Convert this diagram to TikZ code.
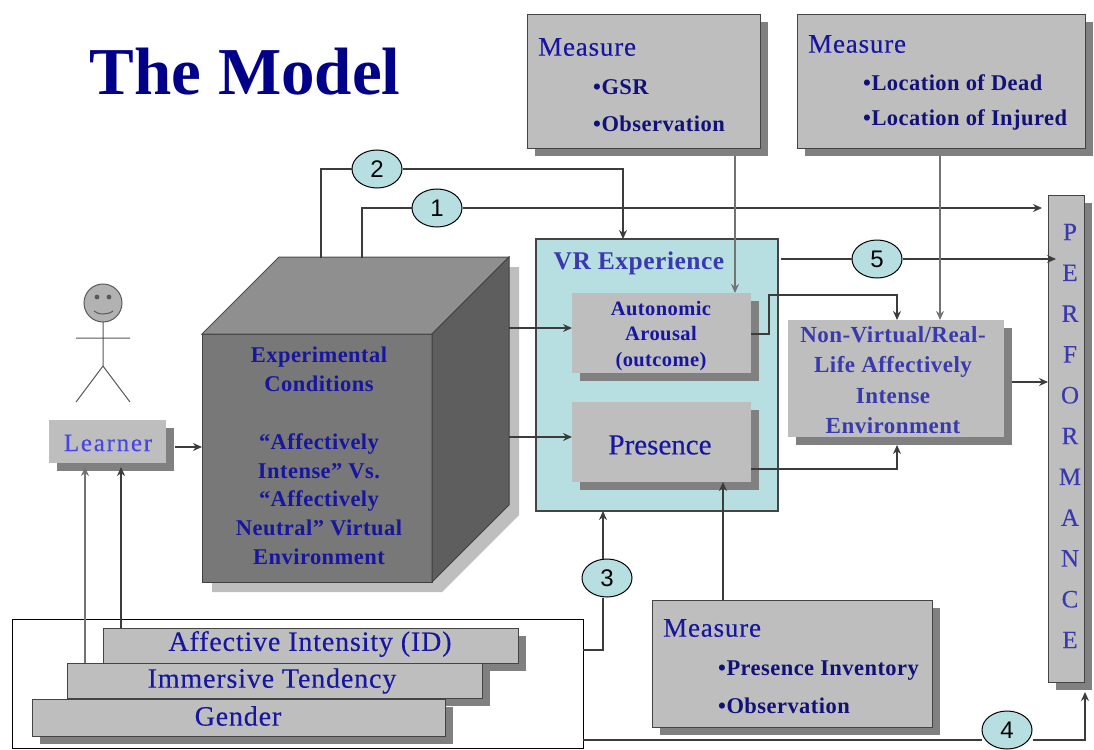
\documentclass[tikz,border=0pt]{standalone}
\usepackage{fontspec}
\setmainfont{Liberation Serif}
\newfontfamily\circfont{Liberation Sans}
\newfontfamily\boldwide[LetterSpace=2]{Liberation Serif}
\newfontfamily\thickwide[LetterSpace=3,FakeBold=0.25]{Liberation Serif}
\newfontfamily\thickwider[LetterSpace=7,FakeBold=0.2]{Liberation Serif}
\newfontfamily\thickplain[FakeBold=0.25]{Liberation Serif}
\usetikzlibrary{arrows.meta,shadows,calc,shapes.geometric}
\definecolor{boxgrey}{HTML}{BEBEBE}
\definecolor{shadegrey}{HTML}{808080}
\definecolor{teal}{HTML}{B7DFE2}
\definecolor{darkblue}{HTML}{1616A0}
\definecolor{midblue}{HTML}{3A3AAE}
\definecolor{lightblue}{HTML}{4646E6}
\definecolor{titleblue}{HTML}{000088}
\definecolor{linegrey}{HTML}{3C3C3C}
\definecolor{edgegrey}{HTML}{444444}
\tikzset{
  x=1pt,y=-1pt,
  boxbase/.style={anchor=north west,inner sep=0pt,outer sep=0pt,fill=boxgrey,drop shadow={shadow xshift=8pt,shadow yshift=-8pt,fill=shadegrey,opacity=1}},
  plainbox/.style={boxbase},
  framebox/.style={boxbase,draw=edgegrey,line width=0.9pt},
  txt/.style={inner sep=0pt,align=center,text=darkblue,font=\boldwide\bfseries\fontsize{22.5}{24}\selectfont},
  msr/.style={inner sep=0pt,anchor=west,text=darkblue,font=\thickwide\fontsize{27}{30}\selectfont},
  bul/.style={inner sep=0pt,anchor=west,text=black!25!darkblue,font=\boldwide\bfseries\fontsize{22.5}{24}\selectfont},
  stacktxt/.style={inner sep=0pt,text=darkblue,font=\thickwide\fontsize{28}{30}\selectfont},
  bubble/.style={ellipse,draw=black,line width=1pt,fill=teal,inner sep=0pt,minimum width=50pt,minimum height=38pt,text=black,font=\circfont\fontsize{24}{24}\selectfont},
  conn/.style={draw=linegrey,line width=1.4pt},
  arr/.style={conn,-{Stealth[length=9pt,width=8pt]}},
}
\begin{document}
\begin{tikzpicture}
\useasboundingbox (0,0) rectangle (1094,749);
\fill[white] (0,0) rectangle (1094,749);

\node[inner sep=0pt,text=titleblue,font=\bfseries\fontsize{67}{67}\selectfont] (title) at (245,72) {The Model};

% measures
\node[framebox,minimum width=233pt,minimum height=134pt] (mgsr) at (527,14) {};
\node[msr] (mgsrt) at (538,47) {Measure};
\node[bul] (mgsra) at (593,87) {•GSR};
\node[bul] (mgsrb) at (593,124) {•Observation};

\node[framebox,minimum width=288pt,minimum height=134pt] (mloc) at (797,14) {};
\node[msr] (mloct) at (808,44) {Measure};
\node[bul] (mloca) at (863,83) {•Location of Dead};
\node[bul] (mlocb) at (863,120) {•Location of Injured};

\node[framebox,minimum width=280pt,minimum height=127pt] (mpres) at (652,600) {};
\node[msr] (mprest) at (663,628) {Measure};
\node[bul] (mpresa) at (718,671) {•Presence Inventory};
\node[bul] (mpresb) at (718,706) {•Observation};

% performance
\node[framebox,minimum width=36pt,minimum height=487pt] (perf) at (1048,195) {};
\node[inner sep=0pt,align=center,text=midblue,font=\thickplain\fontsize{25}{40.8}\selectfont] (perft) at (1070,436) {P\\E\\R\\F\\O\\R\\M\\A\\N\\C\\E};

% cube
\fill[boxgrey] (212,344) -- (289,267) -- (519,267) -- (519,515) -- (442,592) -- (212,592) -- cycle;
\node[anchor=north west,inner sep=0pt,outer sep=0pt,fill=black!53,draw=black!75,line width=1pt,minimum width=230pt,minimum height=248pt] (cube) at (202,334) {};
\draw[fill=black!44,draw=black!70,line width=1pt] (cube.north west) -- (279,257) -- (509,257) -- (cube.north east) -- cycle;
\draw[fill=black!63,draw=black!75,line width=1pt] (cube.north east) -- (509,257) -- (509,505) -- (cube.south east) -- cycle;
\node[txt,font=\boldwide\bfseries\fontsize{22.5}{28.8}\selectfont] (cubet) at (319,456) {Experimental\\Conditions\\[28.8pt]“Affectively\\Intense” Vs.\\“Affectively\\Neutral” Virtual\\Environment};

% learner
\node[plainbox,minimum width=117pt,minimum height=43pt] (learner) at (49,420) {};
\node[inner sep=0pt,text=lightblue,font=\thickwider\fontsize{25}{26}\selectfont] (learnert) at (108,443) {Learner};
\draw[fill=black!30,draw=black!65,line width=1pt] (103,303) circle (19);
\fill[black!65] (97,297) circle (2.4) (109,297) circle (2.4);
\draw[black!65,line width=1pt] (94,311) .. controls (98,315) and (108,315) .. (113,311);
\draw[black!65,line width=1pt] (103,322) -- (103,366) (76,338) -- (130,338) (76,402) -- (103,366) -- (130,402);

% VR
\node[anchor=north west,inner sep=0pt,outer sep=0pt,fill=teal,draw=edgegrey,line width=1.1pt,minimum width=242pt,minimum height=272pt] (vr) at (536,239) {};
\node[txt,text=midblue,font=\boldwide\bfseries\fontsize{25.5}{26}\selectfont] (vrt) at (639,263) {VR Experience};
\node[plainbox,minimum width=179pt,minimum height=80pt] (aut) at (572,293) {};
\node[txt,font=\boldwide\bfseries\fontsize{20.5}{25.5}\selectfont] (autt) at (661,336) {Autonomic\\Arousal\\(outcome)};
\node[plainbox,minimum width=179pt,minimum height=80pt] (pres) at (572,402) {};
\node[inner sep=0pt,text=darkblue,font=\thickplain\fontsize{29}{30}\selectfont] (prest) at (660,445) {Presence};
\node[plainbox,minimum width=216pt,minimum height=117pt] (real) at (788,320) {};
\node[txt,text=midblue,font=\boldwide\bfseries\fontsize{23}{30.5}\selectfont] (realt) at (893,380) {Non-Virtual/Real-\\Life Affectively\\Intense\\Environment};

% stack
\node[anchor=north west,inner sep=0pt,outer sep=0pt,draw=black,line width=1pt,minimum width=571pt,minimum height=129pt] (group) at (12,619) {};
\node[framebox,minimum width=415pt,minimum height=35pt] (affec) at (103,628) {};
\node[stacktxt] (affect) at (310,644) {Affective Intensity (ID)};
\node[framebox,minimum width=415pt,minimum height=35pt] (immer) at (67,663) {};
\node[stacktxt] (immert) at (272,681) {Immersive Tendency};
\node[framebox,minimum width=413pt,minimum height=37pt] (gender) at (32,699) {};
\node[stacktxt] (gendert) at (238,716) {Gender};

% bubbles
\node[bubble] (two) at (377,169) {2};
\node[bubble] (one) at (437,208) {1};
\node[bubble] (five) at (877,259) {5};
\node[bubble] (three) at (607,578) {3};
\node[bubble] (four) at (1007,730) {4};

% free ends
\coordinate (cubetwo) at (321,258);
\coordinate (cubeone) at (362,258);
\coordinate (cubeaut) at (509,328);
\coordinate (cubepres) at (509,437);
\coordinate (vrout) at (781,259);
\coordinate (lout) at (175,447);
\coordinate (gsrout) at (735,156);
\coordinate (locout) at (940,156);
\coordinate (realout) at (1012,382);
\coordinate (immout) at (85,663);
\coordinate (affout) at (121,628);
\coordinate (presup) at (723,600);
\coordinate (autbend) at (769,334);
\coordinate (autend) at (897,320);
\coordinate (presout) at (751,469);
\coordinate (presend) at (897,445);
\coordinate (gstepa) at (583,650);
\coordinate (gstepb) at (603,650);
\coordinate (gout) at (583,740);

% connectors
\draw[conn] (cubetwo) |- (two);
\draw[arr] (two) -| (623,239);
\draw[conn] (cubeone) |- (one);
\draw[arr] (one) -- (1042,208);
\draw[conn] (vrout) -- (five);
\draw[arr] (five) -- (1056,259);
\draw[arr] (cubeaut) -- (cubeaut -| aut.west);
\draw[arr] (cubepres) -- (cubepres -| pres.west);
\draw[arr] (lout) -- (lout -| cube.west);
\draw[arr,draw=black!55] (immout) -- (85,467);
\draw[arr] (affout) -- (121,467);
\draw[arr,draw=black!55] (gsrout) -- (gsrout |- aut.north);
\draw[arr,draw=black!55] (locout) -- (locout |- real.north);
\draw[arr] (aut.east -| autbend) ++(-18,1) -- (autbend) -- (769,295) -| (autend);
\draw[arr] (presout) -| (presend);
\draw[arr] (presup) -- (presup |- pres.south);
\draw[arr] (realout) -- (realout -| perf.west);
\draw[conn] (gstepa) -- (gstepb) -- (gstepb |- three.south);
\draw[arr] (gstepb |- three.north) -- (gstepb |- vr.south);
\draw[conn] (gout) -- (gout -| four.west);
\draw[arr] (gout -| four.east) -| (1085,692);
\end{tikzpicture}
\end{document}
